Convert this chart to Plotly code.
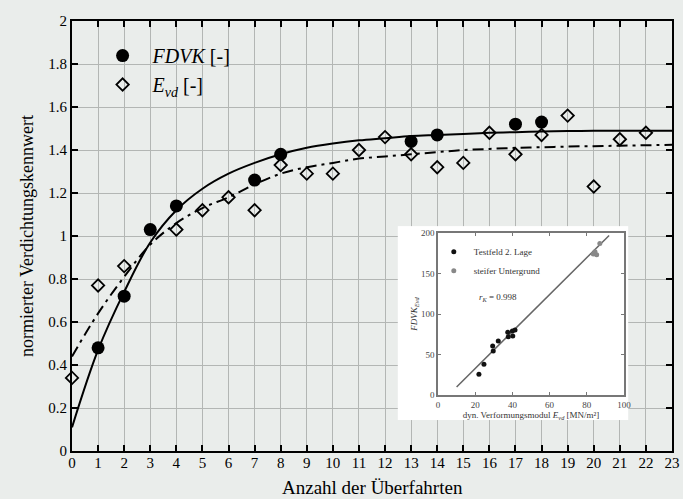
import plotly.graph_objects as go

# ---------------- data ----------------
passes = list(range(0, 24))

fdvk_x = [1, 2, 3, 4, 7, 8, 13, 14, 17, 18]
fdvk_y = [0.48, 0.72, 1.03, 1.14, 1.26, 1.38, 1.44, 1.47, 1.52, 1.53]

evd_x = [0, 1, 2, 4, 5, 6, 7, 8, 9, 10, 11, 12, 13, 14, 15, 16, 17, 18, 19, 20, 21, 22]
evd_y = [0.34, 0.77, 0.86, 1.03, 1.12, 1.18, 1.12, 1.33, 1.29, 1.29, 1.40, 1.46,
         1.38, 1.32, 1.34, 1.48, 1.38, 1.47, 1.56, 1.23, 1.45, 1.48]

fit_fdvk = [0.11, 0.47, 0.74, 0.97, 1.12, 1.22, 1.29, 1.34, 1.38, 1.41, 1.43, 1.445,
            1.455, 1.465, 1.47, 1.475, 1.48, 1.483, 1.486, 1.488, 1.489, 1.49, 1.49, 1.49]
fit_evd = [0.44, 0.64, 0.81, 0.96, 1.06, 1.13, 1.18, 1.24, 1.29, 1.32, 1.34, 1.36,
           1.37, 1.38, 1.39, 1.40, 1.405, 1.41, 1.413, 1.416, 1.418, 1.42, 1.422, 1.424]

# inset
inset_test_x = [22, 24.7, 29.4, 29.7, 32.4, 37.5, 37.8, 40, 40.2, 41.4]
inset_test_y = [25.6, 38, 60.6, 54.5, 66.8, 77.6, 72, 79, 73, 80.4]
inset_stiff_x = [83.5, 85.3, 84.4, 87]
inset_stiff_y = [174, 173, 177, 187]
inset_line_x = [10, 92]
inset_line_y = [10, 197]

x_ticks = list(range(0, 24))
y_ticks = [0, 0.2, 0.4, 0.6, 0.8, 1, 1.2, 1.4, 1.6, 1.8, 2]

SERIF = "Liberation Serif, DejaVu Serif, serif"
BG = "#eaedeb"
GRID = "#b3b6b4"

fig = go.Figure()

# fitted curves
fig.add_trace(go.Scatter(x=passes, y=fit_fdvk, mode="lines", line=dict(color="black", width=2, shape="spline"),
                         showlegend=False, hoverinfo="skip"))
fig.add_trace(go.Scatter(x=passes, y=fit_evd, mode="lines",
                         line=dict(color="black", width=2, shape="spline", dash="11px,5px,3px,5px"),
                         showlegend=False, hoverinfo="skip"))
# data points
fig.add_trace(go.Scatter(x=evd_x, y=evd_y, mode="markers", name="&nbsp;&nbsp;<i>E</i><sub><i>vd</i></sub> [-]",
                         marker=dict(symbol="diamond-open", size=9.5, color="black",
                                     line=dict(width=1.8, color="black")),
                         cliponaxis=False))
fig.add_trace(go.Scatter(x=fdvk_x, y=fdvk_y, mode="markers", name="&nbsp;&nbsp;<i>FDVK</i> [-]",
                         marker=dict(symbol="circle", size=13, color="black"), cliponaxis=False))

# dummy subplot giving the white box behind the inset
fig.add_trace(go.Scatter(x=[0.5], y=[0.5], xaxis="x2", yaxis="y2", mode="markers",
                         marker=dict(opacity=0), showlegend=False, hoverinfo="skip"))

# inset traces
fig.add_trace(go.Scatter(x=inset_line_x, y=inset_line_y, xaxis="x3", yaxis="y3", mode="lines",
                         line=dict(color="#666666", width=1.5), showlegend=False, hoverinfo="skip"))
fig.add_trace(go.Scatter(x=inset_test_x, y=inset_test_y, xaxis="x3", yaxis="y3", mode="markers",
                         name="Testfeld 2. Lage", legend="legend2",
                         marker=dict(size=5, color="#111111")))
fig.add_trace(go.Scatter(x=inset_stiff_x, y=inset_stiff_y, xaxis="x3", yaxis="y3", mode="markers",
                         name="steifer Untergrund", legend="legend2",
                         marker=dict(size=5, color="#888888")))

main_axis = dict(showgrid=True, gridcolor=GRID, gridwidth=1, showline=True, linecolor="black", linewidth=2,
                 mirror="allticks", ticks="inside", ticklen=6, tickwidth=1.5, tickcolor="black",
                 zeroline=False, automargin=False, tickfont=dict(family=SERIF, size=15, color="black"))

inset_axis = dict(showgrid=False, showline=True, linecolor="#777777", linewidth=1.5, mirror="allticks",
                  ticks="inside", ticklen=3, tickcolor="#777777", zeroline=False, automargin=False,
                  tickfont=dict(family=SERIF, size=9, color="#444444"))

fig.update_layout(
    width=683, height=499,
    margin=dict(l=72, r=11, t=21, b=48),
    paper_bgcolor=BG, plot_bgcolor="white",
    font=dict(family=SERIF, color="black"),
    xaxis=dict(main_axis, range=[0, 23], tickvals=x_ticks, ticklabelstandoff=-3),
    yaxis=dict(main_axis, range=[0, 2], tickvals=y_ticks,
               title=dict(text="normierter Verdichtungskennwert", font=dict(size=18), standoff=10)),
    xaxis2=dict(domain=[0.543, 0.927], range=[0, 1], visible=False, anchor="y2", automargin=False),
    yaxis2=dict(domain=[0.072, 0.523], range=[0, 1], visible=False, anchor="x2", automargin=False),
    xaxis3=dict(inset_axis, domain=[0.61, 0.92], range=[0, 100], dtick=20, anchor="y3",
                title=dict(text="dyn. Verformungsmodul <i>E</i><sub><i>vd</i></sub> [MN/m²]",
                           font=dict(size=9, color="#333333"), standoff=1)),
    yaxis3=dict(inset_axis, domain=[0.13, 0.507], range=[0, 200], dtick=50, anchor="x3",
                title=dict(text="<i>FDVK</i><sub><i>Evd</i></sub>", font=dict(size=9, color="#333333"), standoff=2)),
    legend=dict(x=0.051, y=0.965, xanchor="left", yanchor="top", bgcolor="rgba(0,0,0,0)",
                font=dict(family=SERIF, size=20, color="black"), traceorder="reversed"),
    legend2=dict(x=0.603, y=0.497, xanchor="left", yanchor="top", bgcolor="rgba(0,0,0,0)",
                 font=dict(family=SERIF, size=9, color="#333333"), tracegroupgap=0, itemwidth=30),
    shapes=[dict(type="rect", xref="paper", yref="paper", x0=0, x1=1, y0=0, y1=1,
                 fillcolor=BG, line=dict(width=0), layer="below")],
    annotations=[
        dict(x=32, y=120, xref="x3", yref="y3", text="<i>r<sub>K</sub></i> = 0.998",
             showarrow=False, font=dict(family=SERIF, size=9, color="#333333")),
        dict(x=0.5, y=-0.084, xref="paper", yref="paper", text="Anzahl der Überfahrten",
             showarrow=False, yanchor="middle", font=dict(family=SERIF, size=19, color="black")),
    ],
)

fig.write_html("out.html", config={"displayModeBar": False},
               post_script="document.body.style.margin='0px';document.body.style.background='#eaedeb';")
